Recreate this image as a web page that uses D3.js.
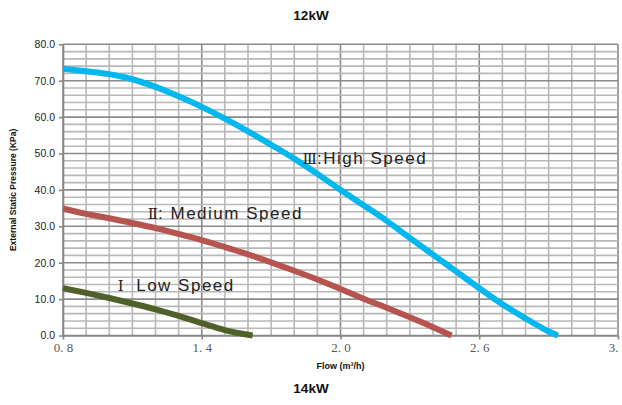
<!DOCTYPE html>
<html>
<head>
<meta charset="utf-8">
<script src="https://cdn.jsdelivr.net/npm/d3@7"></script>
<style>
  html, body { margin: 0; padding: 0; background: #fff; }
  svg { display: block; }
</style>
</head>
<body>
<svg id="chart" width="622" height="405"></svg>
<script>
// Fan curves: flow (m³/h) vs external static pressure (KPa)
const flowHigh = [0.8, 0.9, 1.0, 1.1, 1.2, 1.3, 1.4, 1.5, 1.6, 1.7, 1.8, 1.9, 2.0, 2.1, 2.2, 2.3, 2.4, 2.5, 2.6, 2.7, 2.8, 2.9, 2.94];
const pressureHigh = [73.3, 72.6, 71.8, 70.4, 68.3, 65.7, 62.8, 59.6, 56.1, 52.4, 48.6, 44.4, 40.0, 35.8, 31.5, 26.8, 22.2, 17.6, 13.0, 8.6, 4.7, 1.1, 0.0];

const flowMedium = [0.8, 0.9, 1.0, 1.1, 1.2, 1.3, 1.4, 1.5, 1.6, 1.7, 1.8, 1.9, 2.0, 2.1, 2.2, 2.3, 2.4, 2.48];
const pressureMedium = [34.9, 33.4, 32.2, 30.9, 29.5, 27.9, 26.2, 24.3, 22.3, 20.1, 17.8, 15.4, 12.8, 10.1, 7.6, 5.0, 2.3, 0.0];

const flowLow = [0.8, 0.9, 1.0, 1.1, 1.2, 1.3, 1.4, 1.5, 1.62];
const pressureLow = [13.0, 11.7, 10.3, 8.8, 7.2, 5.4, 3.4, 1.5, 0.0];

const xTickValues = [0.8, 1.4, 2.0, 2.6, 3.2];
const xTickLabels = ["0. 8", "1. 4", "2. 0", "2. 6", "3. 2"];
const yTickValues = [0, 10, 20, 30, 40, 50, 60, 70, 80];

const seriesNumerals = ["Ⅲ", "Ⅱ", "Ⅰ"];
const seriesNames = [":High Speed", ": Medium Speed", "  Low Speed"];
const seriesColors = ["#00B7EF", "#B85450", "#4F6128"];

const svg = d3.select("#chart");
const margin = { left: 63, right: 4, top: 44.3, bottom: 69.5 };
const W = 622, H = 405;

const x = d3.scaleLinear().domain([0.8, 3.2]).range([margin.left, W - margin.right]);
const y = d3.scaleLinear().domain([0, 80]).range([H - margin.bottom, margin.top]);

const grid = svg.append("g");
// minor grid: every 0.1 m³/h and every 2 KPa; majors drawn darker
const xMinor = d3.range(0, 25).map(i => +(0.8 + i * 0.1).toFixed(2));
const yMinor = d3.range(0, 41).map(i => i * 2);

grid.selectAll("line.v").data(xMinor).join("line")
  .attr("x1", d => x(d)).attr("x2", d => x(d))
  .attr("y1", y(0)).attr("y2", y(80))
  .attr("stroke", d => xTickValues.some(t => Math.abs(t - d) < 1e-6) ? "#8a8a8a" : "#b8b8b8")
  .attr("stroke-width", 1.6);

grid.selectAll("line.h").data(yMinor).join("line")
  .attr("x1", x(0.8)).attr("x2", x(3.2))
  .attr("y1", d => y(d)).attr("y2", d => y(d))
  .attr("stroke", d => d % 10 === 0 ? "#8a8a8a" : "#b8b8b8")
  .attr("stroke-width", 1.6);

// axes
const xAxis = d3.axisBottom(x).tickValues(xTickValues)
  .tickFormat((d, i) => xTickLabels[i]).tickSize(4).tickSizeOuter(0);
const gx = svg.append("g").attr("transform", `translate(0,${y(0)})`).call(xAxis);
gx.select(".domain").attr("stroke", "#888").attr("stroke-width", 1.6);
gx.selectAll(".tick line").attr("stroke", "#888").attr("stroke-width", 1.6);
gx.selectAll(".tick text")
  .attr("font-family", "'Liberation Serif', 'DejaVu Serif', serif")
  .attr("font-size", 13).attr("fill", "#595959").attr("dy", "0.75em")
  .style("white-space", "pre");

const yAxis = d3.axisLeft(y).tickValues(yTickValues)
  .tickFormat(d3.format(".1f")).tickSize(4).tickSizeOuter(0);
const gy = svg.append("g").attr("transform", `translate(${x(0.8)},0)`).call(yAxis);
gy.select(".domain").attr("stroke", "#888").attr("stroke-width", 1.6);
gy.selectAll(".tick line").attr("stroke", "#888").attr("stroke-width", 1.6);
gy.selectAll(".tick text")
  .attr("font-family", "'Liberation Sans', Arial, sans-serif")
  .attr("font-size", 10.5).attr("fill", "#222").attr("x", -8);

// curves
const line = d3.line().x(d => x(d[0])).y(d => y(d[1])).curve(d3.curveCatmullRom.alpha(0.5));
const series = [
  d3.zip(flowHigh, pressureHigh),
  d3.zip(flowMedium, pressureMedium),
  d3.zip(flowLow, pressureLow)
];
svg.append("g").selectAll("path").data(series).join("path")
  .attr("d", line)
  .attr("fill", "none")
  .attr("stroke", (d, i) => seriesColors[i])
  .attr("stroke-width", 6);

// curve labels
const labelPos = [[1.836, 47.0], [1.167, 32.0], [1.037, 12.2]];
const labels = svg.append("g").selectAll("text").data(seriesNames).join("text")
  .attr("x", (d, i) => x(labelPos[i][0]))
  .attr("y", (d, i) => y(labelPos[i][1]))
  .attr("font-family", "'Liberation Sans', Arial, sans-serif")
  .attr("font-size", 17)
  .attr("letter-spacing", 1.5)
  .attr("fill", "#222")
  .style("white-space", "pre");
labels.append("tspan")
  .attr("font-family", "'DejaVu Serif', 'Liberation Serif', serif")
  .attr("font-size", 15)
  .attr("letter-spacing", 0)
  .text((d, i) => seriesNumerals[i]);
labels.append("tspan").text(d => d);

// titles
svg.append("text").attr("x", 311).attr("y", 20).attr("text-anchor", "middle")
  .attr("font-family", "'Liberation Sans', Arial, sans-serif").attr("font-weight", "bold")
  .attr("font-size", 13.5).attr("fill", "#111").text("12kW");
svg.append("text").attr("x", 311).attr("y", 393).attr("text-anchor", "middle")
  .attr("font-family", "'Liberation Sans', Arial, sans-serif").attr("font-weight", "bold")
  .attr("font-size", 13.5).attr("fill", "#111").text("14kW");
svg.append("text").attr("x", x(2.0)).attr("y", 369).attr("text-anchor", "middle")
  .attr("font-family", "'Liberation Sans', Arial, sans-serif").attr("font-weight", "bold")
  .attr("font-size", 9).attr("fill", "#111").text("Flow (m³/h)");
svg.append("text")
  .attr("transform", `translate(16,${y(40)}) rotate(-90)`)
  .attr("text-anchor", "middle")
  .attr("font-family", "'Liberation Sans', Arial, sans-serif").attr("font-weight", "bold")
  .attr("font-size", 8.5).attr("fill", "#111").text("External Static Pressure (KPa)");
</script>
</body>
</html>
